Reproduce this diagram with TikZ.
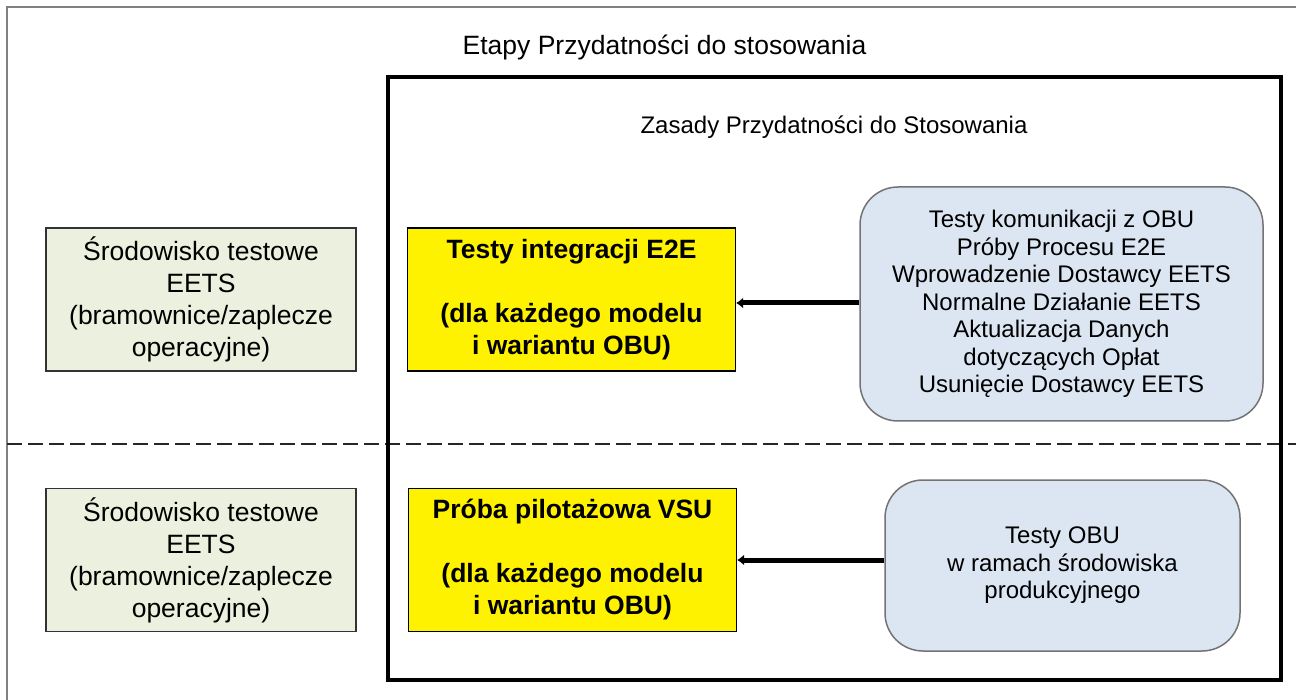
\documentclass[tikz,border=0pt]{standalone}
\usepackage{fontspec}
\setmainfont{Liberation Sans}
\usetikzlibrary{arrows.meta}
\definecolor{greenfill}{HTML}{EBF1DE}
\definecolor{bluefill}{HTML}{DCE6F2}
\definecolor{framegray}{HTML}{808080}
\begin{document}
\begin{tikzpicture}[x=1pt,y=-1pt,
  envbox/.style={draw=black!80,line width=1.2pt,fill=greenfill,minimum width=310pt,minimum height=143pt,align=center,inner sep=0pt,
    font=\fontsize{26.5}{32}\selectfont},
  testbox/.style={draw=black,line width=1.2pt,fill=yellow,minimum width=328pt,minimum height=143pt,align=center,inner sep=0pt,
    font=\fontsize{26.5}{32}\selectfont\bfseries},
  rulebox/.style={draw=black!55,line width=1.5pt,fill=bluefill,rounded corners=38pt,align=center,inner sep=0pt,
    font=\fontsize{24}{27.5}\selectfont},
  feed/.style={line width=5pt,-{Latex[length=7pt,width=11pt]}}
]
\useasboundingbox (0,0) rectangle (1296,700);
% outer frame (clipped)
\draw[framegray,line width=1.5pt] (7,700) -- (7,7) -- (1296,7);
% dashed separator
\draw[black!85,line width=2pt,dash pattern=on 15pt off 6pt] (7,444) -- (1296,444);
% thick frame
\draw[black,line width=4pt] (388,77) rectangle (1281,680);
% titles
\node[font=\fontsize{26.5}{32}\selectfont] (title) at (664.5,47) {Etapy Przydatności do stosowania};
\node[font=\fontsize{24}{28}\selectfont] (subtitle) at (834,127) {Zasady Przydatności do Stosowania};
% left boxes
\node[envbox] (env1) at (201,299.5) {Środowisko testowe\\EETS\\(bramownice/zaplecze\\operacyjne)};
\node[envbox] (env2) at (201,560) {Środowisko testowe\\EETS\\(bramownice/zaplecze\\operacyjne)};
% yellow boxes
\node[testbox] (e2e) at (571.5,299.5) {Testy integracji E2E\\[32pt](dla każdego modelu\\i wariantu OBU)};
\node[testbox] (vsu) at (572.5,560) {Próba pilotażowa VSU\\[32pt](dla każdego modelu\\i wariantu OBU)};
% blue boxes
\node[rulebox,minimum width=403pt,minimum height=234pt] (rules1) at (1061.5,304) {Testy komunikacji z OBU\\Próby Procesu E2E\\Wprowadzenie Dostawcy EETS\\Normalne Działanie EETS\\Aktualizacja Danych\\dotyczących Opłat\\Usunięcie Dostawcy EETS};
\node[rulebox,minimum width=355pt,minimum height=171pt] (rules2) at (1062.5,565.5) {Testy OBU\\w ramach środowiska\\produkcyjnego};
% arrows
\draw[feed] (rules1.west |- 0,303) -- (e2e.east |- 0,303);
\draw[feed] (rules2.west |- 0,560) -- (vsu.east |- 0,560);
\end{tikzpicture}
\end{document}
